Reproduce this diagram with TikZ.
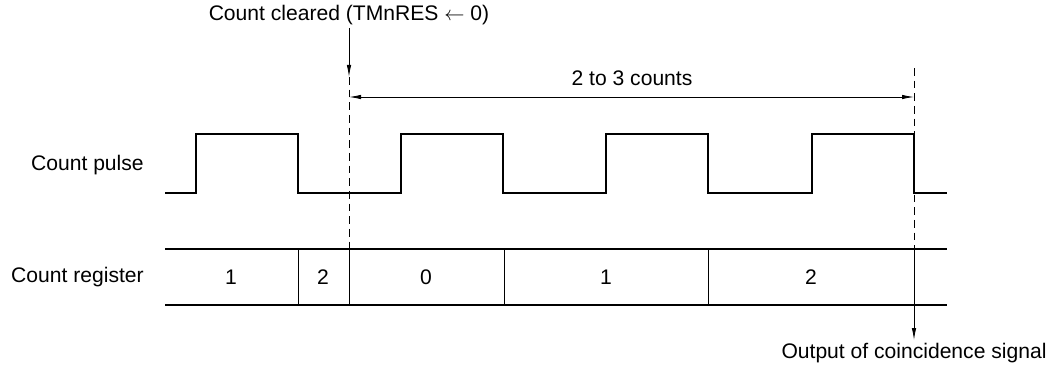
\documentclass[tikz,border=0pt]{standalone}
\usepackage{fontspec}
\setmainfont{Liberation Sans}
\usetikzlibrary{arrows.meta}
\tikzset{
  every node/.style={font=\fontsize{15}{18}\selectfont, inner sep=2pt},
  sig/.style={line width=1.3pt, line join=miter},
  rail/.style={line width=1.3pt},
  cell/.style={line width=0.6pt},
  guide/.style={line width=0.6pt, dash pattern=on 5.5pt off 3.5pt},
  tip/.style={-{Latex[length=3mm, width=1.1mm]}, line width=0.6pt},
  span/.style={{Latex[length=3mm, width=1.1mm]}-{Latex[length=3mm, width=1.1mm]}, line width=0.6pt},
  lbl/.style={anchor=east, inner sep=0pt},
}
\begin{document}
\begin{tikzpicture}[x=0.025cm, y=-0.025cm]
  \useasboundingbox (0,0) rectangle (1054,369);

  % row labels
  \node[lbl] (pulse) at (144,165) {Count pulse};
  \node[lbl] (reg) at (144,277) {Count register};

  % count pulse
  \draw[sig] (165,193)
    \foreach \x in {196,401,606,812} { -- (\x,193) -- (\x,134) -- (\x+102,134) -- (\x+102,193) }
    -- (947,193);

  % count register
  \draw[rail] (165,249) -- (947,249);
  \draw[rail] (165,305) -- (947,305);
  \foreach \x in {298,349,504,708} \draw[cell] (\x,249) -- (\x,305);
  \foreach \x/\v [count=\i] in {231/1,323/2,426/0,606/1,811/2}
    \node (c\i) at (\x,277) {\v};

  % count cleared
  \node (clr) at (349,15) {Count cleared (TMnRES $\leftarrow$ 0)};
  \coordinate (clrtip) at (349,77);
  \coordinate (clrbot) at (349,249);
  \draw[tip] (clr.south -| clrtip) -- (clrtip);
  \draw[guide] (clrtip) -- (clrbot);

  % 2 to 3 counts
  \coordinate (spanL) at (349,97);
  \coordinate (spanR) at (914,97);
  \draw[span] (spanL) -- (spanR);
  \node (cnt) at (632,78) {2 to 3 counts};

  % coincidence
  \node (out) at (914,353) {Output of coincidence signal};
  \coordinate (cmtop) at (914,68);
  \coordinate (cmreg) at (914,249);
  \draw[guide] (cmtop) -- (cmreg);
  \draw[tip] (cmreg) -- (out.north);
\end{tikzpicture}
\end{document}
